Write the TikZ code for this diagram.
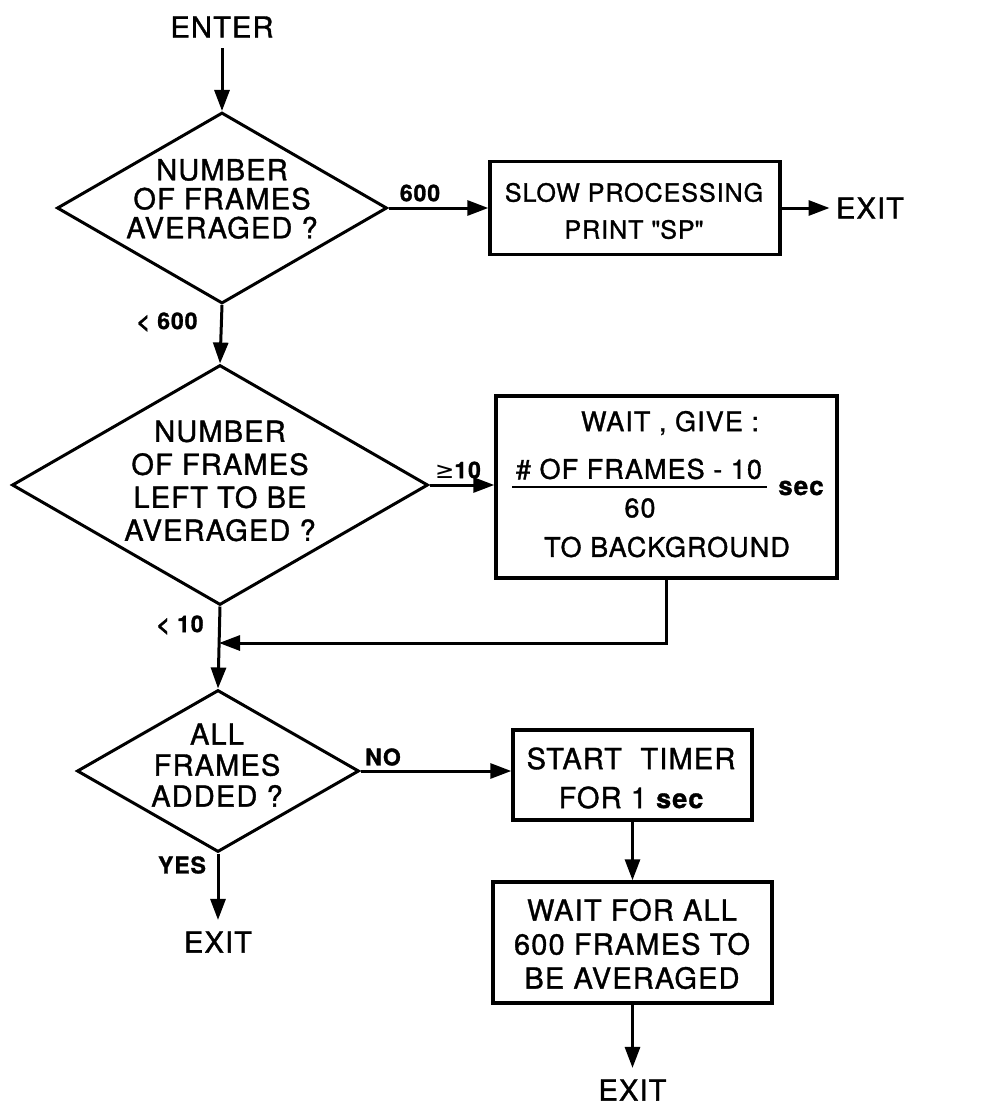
\documentclass[tikz,border=0pt]{standalone}
\usepackage{fontspec}
\setmainfont{TeX Gyre Heros}[FakeBold=1.2,LetterSpace=4]
\newfontfamily\plainheros{TeX Gyre Heros}[FakeBold=1.2]
\newfontfamily\dejavu{DejaVu Sans}
\usetikzlibrary{shapes.geometric,arrows.meta}
\begin{document}
\begin{tikzpicture}[x=1pt,y=-1pt,
  line width=3pt,
  >={Triangle[length=21pt,width=15pt]},
  dia/.style={diamond, draw, line width=3pt, inner sep=0pt},
  box/.style={rectangle, draw, line width=3.4pt, inner sep=0pt},
  txt/.style={align=center, inner sep=0pt, font=\fontsize{27}{#1}\selectfont},
  txt/.default=30,
  big/.style={align=center, inner sep=0pt, font=\fontsize{29}{#1}\selectfont},
  big/.default=32,
  lbl/.style={inner sep=0pt, font=\bfseries\fontsize{23}{25}\selectfont},
  conn/.style={->, line width=3pt},
]
\useasboundingbox (0,0) rectangle (993,1105);

% nodes
\node[big] (enter) at (222,27) {ENTER};
\node[dia, minimum width=330pt, minimum height=191pt] (d1) at (222,208) {};
\node[big=29] (d1t) at (222,199) {NUMBER\\OF FRAMES\\AVERAGED ?};
\node[box, minimum width=290pt, minimum height=93pt] (b1) at (635,208) {};
\node[txt=37, font=\fontsize{25}{37}\selectfont] (b1t) at (634,211) {SLOW PROCESSING\\PRINT {\plainheros"}SP{\plainheros"}};
\node[big] (exit1) at (870,208) {EXIT};

\node[dia, minimum width=416pt, minimum height=240pt] (d2) at (220,485) {};
\node[big=33] (d2t) at (220,481) {NUMBER\\OF FRAMES\\LEFT TO BE\\AVERAGED ?};
\node[box, minimum width=341pt, minimum height=182pt] (b2) at (666.5,487) {};
\node[txt] (b2a) at (670,423) {WAIT , GIVE :};
\node[txt] (b2n) at (639,469) {\# OF FRAMES - 10};
\draw[line width=2.8pt] (512,487) -- (767,487);
\node[txt] (b2d) at (640,508) {60};
\node[lbl, font=\bfseries\fontsize{26}{28}\selectfont] (sec1) at (801,488) {sec};
\node[txt] (b2c) at (667,547) {TO BACKGROUND};

\node[dia, minimum width=282pt, minimum height=162pt] (d3) at (218,771) {};
\node[big=31] (d3t) at (217,765) {ALL\\FRAMES\\ADDED ?};
\node[box, minimum width=239pt, minimum height=90pt] (b3) at (632.5,775) {};
\node[big=39] (b3t) at (631,778) {START\ \ TIMER\\FOR 1 {\bfseries\fontsize{27}{28}\selectfont sec}};
\node[box, minimum width=279pt, minimum height=121pt] (b4) at (632.5,942.5) {};
\node[big=34] (b4t) at (632,944) {WAIT FOR ALL\\600 FRAMES TO\\BE AVERAGED};
\node[big] (exit2) at (218,942) {EXIT};
\node[big] (exit3) at (632.5,1090) {EXIT};

% labels
\node[lbl] (l600) at (420,193) {600};
\node[lbl] (l600b) at (167,322) {< 600};
\node[lbl] (lge) at (458,470) {{\dejavu\mdseries ≥}10};
\node[lbl] (l10) at (180,625) {< 10};
\node[lbl] (lno) at (383,757) {NO};
\node[lbl] (lyes) at (182,865) {YES};

\coordinate (j) at (219,643);

% connectors
\draw[conn, shorten <=9pt] (enter) -- (d1.north);
\draw[conn] (d1.east) -- (b1.west);
\draw[conn, shorten >=5pt] (b1.east) -- (exit1.west);
\draw[conn] (d1.south) -- (d2.north);
\draw[conn] (d2.east) -- (d2.east -| b2.west);
\draw[conn] (d2.south) -- (d3.north);
\draw[conn] (b2.south) |- (j);
\draw[conn] (d3.east) -- (d3.east -| b3.west);
\draw[conn, shorten >=10pt] (d3.south) -- (exit2.north);
\draw[conn] (b3.south) -- (b4.north);
\draw[conn, shorten >=10pt] (b4.south) -- (exit3.north);
\end{tikzpicture}
\end{document}
